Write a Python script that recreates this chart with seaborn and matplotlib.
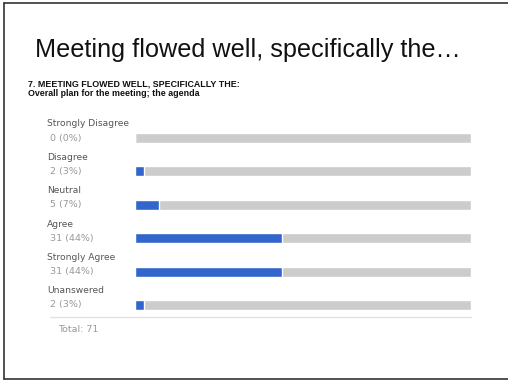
import matplotlib
matplotlib.use("Agg")
import matplotlib.pyplot as plt
import seaborn as sns
import pandas as pd
from matplotlib.transforms import blended_transform_factory
from matplotlib.lines import Line2D

categories = ["Strongly Disagree", "Disagree", "Neutral", "Agree", "Strongly Agree", "Unanswered"]
counts = [0, 2, 5, 31, 31, 2]
total = 71
title = "Meeting flowed well, specifically the\u2026"
subtitle1 = "7. MEETING FLOWED WELL, SPECIFICALLY THE:"
subtitle2 = "Overall plan for the meeting; the agenda"

pct = [c / total * 100 for c in counts]
df = pd.DataFrame({"cat": categories, "pct": pct, "track": [100] * len(categories)})

sns.set_theme(style="white")
plt.rcParams["font.family"] = ["Liberation Sans", "DejaVu Sans"]

W, H = 508, 381
fig = plt.figure(figsize=(W / 100, H / 100), dpi=100)
fig.patch.set_facecolor("white")

# slide frame
for (x0, y0, x1, y1) in [(3.5, 2.5, 3.5, 378.5), (3.5, 2.5, 508, 2.5), (3.5, 378.5, 508, 378.5)]:
    fig.add_artist(Line2D([x0 / W, x1 / W], [1 - y0 / H, 1 - y1 / H], color="#333333", lw=1.2))

ax_left, ax_right = 135, 471
y_top_px = 138 - 0.5 * 33.4
y_bot_px = 138 + 5.5 * 33.4
ax = fig.add_axes([ax_left / W, 1 - y_bot_px / H, (ax_right - ax_left) / W, (y_bot_px - y_top_px) / H])

sns.barplot(data=df, x="track", y="cat", color="#cccccc", width=0.3, ax=ax, saturation=1, orient="h")
sns.barplot(data=df, x="pct", y="cat", color="#3366cc", width=0.3, ax=ax, saturation=1, orient="h")
ax.set_xlim(0, 100)
ax.set_ylim(5.5, -0.5)
ax.axis("off")

tr = blended_transform_factory(fig.transFigure, ax.transData)
for i, (c, n, p) in enumerate(zip(categories, counts, pct)):
    ax.text(47 / W, i - 0.42, c, transform=tr, fontsize=6.6, color="#555555", va="center", ha="left",
            clip_on=False, family=["DejaVu Sans"])
    ax.text(50 / W, i, f"{n} ({round(p)}%)", transform=tr, fontsize=6.8, color="#999999", va="center", ha="left",
            clip_on=False, family=["DejaVu Sans"])

ax.add_line(Line2D([50 / W, ax_right / W], [5.36, 5.36], transform=tr, color="#e3e3e3", lw=1, clip_on=False))
ax.text(58 / W, 5.72, f"Total: {total}", transform=tr, fontsize=6.8, color="#999999", va="center", ha="left",
        clip_on=False, family=["DejaVu Sans"])

fig.text(35 / W, 1 - 50 / H, title, fontsize=18.2, color="#111111", va="center", ha="left")
fig.text(28 / W, 1 - 84.5 / H, subtitle1, fontsize=6.4, fontweight="bold", color="#111111", va="center", ha="left")
fig.text(28 / W, 1 - 93.5 / H, subtitle2, fontsize=6.4, fontweight="bold", color="#111111", va="center", ha="left")

fig.savefig("out.png", dpi=100, facecolor="white")
